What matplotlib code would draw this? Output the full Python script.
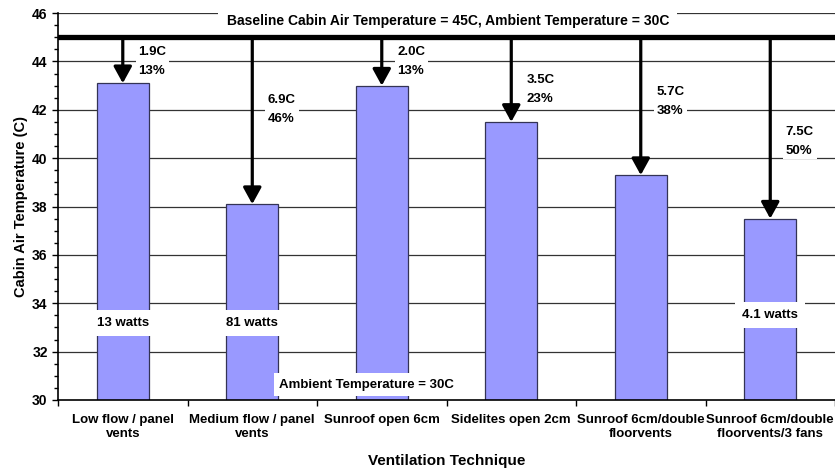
import numpy as np
import matplotlib.pyplot as plt

plt.rcParams['font.family'] = ['Liberation Sans', 'DejaVu Sans']
plt.rcParams['font.weight'] = 'bold'

categories = ['Low flow / panel\nvents', 'Medium flow / panel\nvents', 'Sunroof open 6cm',
              'Sidelites open 2cm', 'Sunroof 6cm/double\nfloorvents',
              'Sunroof 6cm/double\nfloorvents/3 fans']
temps = [43.1, 38.1, 43.0, 41.5, 39.3, 37.5]
drops = ['1.9C\n13%', '6.9C\n46%', '2.0C\n13%', '3.5C\n23%', '5.7C\n38%', '7.5C\n50%']
drop_y = [44.0, 42.0, 44.0, 42.85, 42.35, 40.7]
watts = {0: ('13 watts', 33.2), 1: ('81 watts', 33.2), 5: ('4.1 watts', 33.5)}
baseline = 45.0

fig = plt.figure(figsize=(8.35, 4.68), dpi=100)
ax = fig.add_axes([0.0695, 0.1453, 0.9305, 0.8267])

x = np.arange(len(categories))
ax.set_xlim(-0.5, len(categories) - 0.5)
ax.set_ylim(30, 46)

for yv in np.arange(32, 47, 2):
    ax.axhline(yv, color='#333333', lw=0.9, zorder=0)

ax.bar(x, temps, width=0.4, bottom=0, color='#9999FF', edgecolor='#333355', lw=0.9, zorder=2)

ax.axhline(baseline, color='black', lw=3.8, zorder=4)

for i in x:
    ax.annotate('', xy=(i, temps[i]), xytext=(i, baseline),
                arrowprops=dict(arrowstyle='-|>,head_width=0.55,head_length=1.0',
                                color='black', lw=2.3, shrinkA=0, shrinkB=0),
                zorder=5)
    ax.text(i + 0.12, drop_y[i], drops[i], fontsize=9.5, fontweight='bold',
            ha='left', va='center', linespacing=1.75,
            bbox=dict(facecolor='white', edgecolor='none', pad=2), zorder=3)

for i, (lab, yv) in watts.items():
    ax.text(i, yv, lab, fontsize=9.5, fontweight='bold', ha='center', va='center',
            bbox=dict(facecolor='white', edgecolor='none', pad=5), zorder=3)

ax.text(1.21, 30.63, 'Ambient Temperature = 30C', fontsize=9.5, fontweight='bold',
        ha='left', va='center', bbox=dict(facecolor='white', edgecolor='none', pad=4), zorder=3)
ax.text(2.51, 45.68, 'Baseline Cabin Air Temperature = 45C, Ambient Temperature = 30C',
        fontsize=10, fontweight='bold', ha='center', va='center',
        bbox=dict(facecolor='white', edgecolor='none', pad=6), zorder=3)

ax.set_yticks(np.arange(30, 47, 2))
ax.set_yticks(np.arange(30, 46.1, 0.5), minor=True)
ax.set_xticks(np.arange(-0.5, len(categories), 1))
ax.set_xticklabels([])
ax.set_xticks(x, minor=True)
ax.set_xticklabels(categories, minor=True, fontsize=9.5, fontweight='bold')
ax.tick_params(axis='x', which='minor', length=0, pad=10)
ax.tick_params(axis='x', which='major', direction='out', length=4, width=1, colors='black')
ax.tick_params(axis='y', which='major', direction='out', length=4, width=1, labelsize=10)
ax.tick_params(axis='y', which='minor', direction='out', length=3, width=1)
for lab in ax.get_yticklabels():
    lab.set_fontweight('bold')

ax.spines['top'].set_visible(False)
ax.spines['right'].set_visible(False)
ax.spines['left'].set_linewidth(1.2)
ax.spines['bottom'].set_linewidth(1.2)

ax.set_ylabel('Cabin Air Temperature (C)', fontsize=10.5, fontweight='bold', labelpad=3)
ax.set_xlabel('Ventilation Technique', fontsize=11, fontweight='bold', labelpad=10)

fig.savefig('out.png', dpi=100)
